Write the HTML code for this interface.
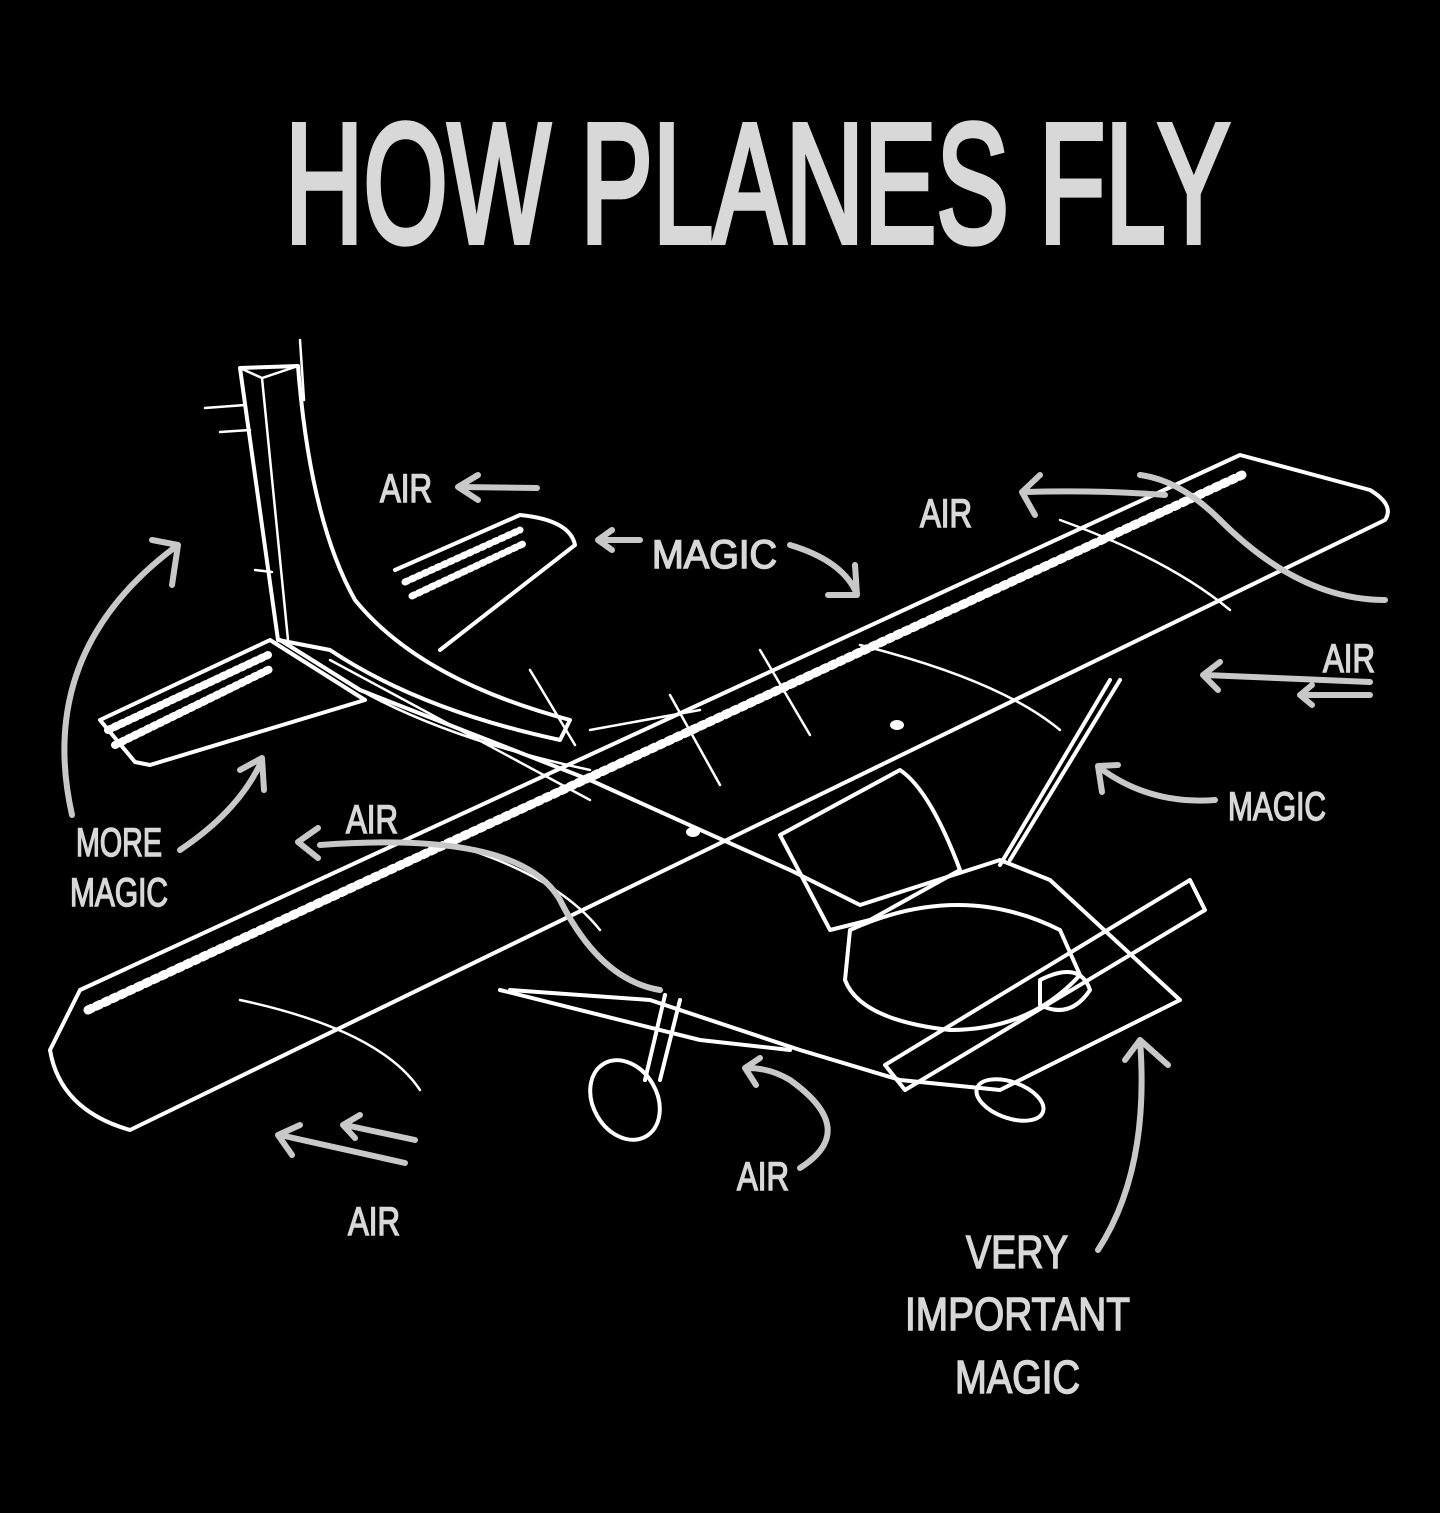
<!DOCTYPE html>
<html><head><meta charset="utf-8"><style>
html,body{margin:0;padding:0;background:#000;}
svg{display:block}
.t{font-family:"Liberation Sans",sans-serif;fill:#d8d8d8;stroke:#d8d8d8;stroke-width:1.5}
.w{fill:none;stroke:#fff;stroke-width:4;stroke-linejoin:round;stroke-linecap:round}
.th{fill:none;stroke:#fff;stroke-width:2.5;stroke-linecap:round}
.a{fill:none;stroke:#c8c8c8;stroke-width:6;stroke-linecap:round;stroke-linejoin:round}
</style></head><body>
<svg width="1440" height="1513" viewBox="0 0 1440 1513" xmlns="http://www.w3.org/2000/svg">
<rect width="1440" height="1513" fill="#000"/>
<text class="t" x="285" y="242" font-size="170" style="stroke-width:6" textLength="945" lengthAdjust="spacingAndGlyphs">HOW PLANES FLY</text>

<!-- vertical tail -->
<path class="w" d="M240,368 L298,366 Q310,520 355,600 Q420,680 570,720 L560,740 Q420,710 330,650 L278,640 Z"/>
<path class="th" d="M262,378 L288,640 M240,368 L262,378 L298,366"/>
<path class="th" d="M205,408 L245,405 M220,432 L250,430 M255,570 L272,572 M300,340 L304,400"/>
<!-- horizontal stabilizers -->
<path class="w" d="M100,720 L270,640 L365,700 L150,765 L135,762 Z"/>
<path class="w" d="M108,730 L268,655 M115,745 L272,668" stroke-dasharray="3 4" style="stroke-width:8"/>
<path class="w" d="M395,570 L520,515 Q570,520 575,545 L440,650"/>
<path class="w" d="M405,582 L520,530 M412,596 L525,543" stroke-dasharray="3 4" style="stroke-width:7"/>
<!-- fuselage -->
<path class="w" d="M280,640 L360,690 L590,780 Q700,830 790,870 L860,905 L1000,860 L1050,880 L1180,1000 L1000,1090 L900,1080 L800,1050 L650,1000 L510,990"/>
<path class="th" d="M360,690 Q450,740 590,770 M330,660 L590,800"/>
<!-- main wing -->
<path class="w" d="M80,990 L1240,455 L1370,490 Q1395,505 1385,520 L130,1130 Q60,1110 50,1050 Z"/>
<path class="w" d="M88,1010 L1242,475" stroke-dasharray="4 5" style="stroke-width:9"/>
<path class="th" d="M240,1000 Q380,1030 420,1090 M470,850 Q560,880 600,930 M860,645 Q1000,680 1060,730 M1060,520 Q1170,560 1230,610"/>
<ellipse cx="693" cy="832" rx="7" ry="5" fill="#fff"/><ellipse cx="897" cy="725" rx="7" ry="5" fill="#fff"/>
<!-- strut -->
<path class="w" d="M1120,680 L1010,860 M1110,680 L1000,865"/>
<path class="w" d="M500,990 L700,1040 L790,1050"/>
<!-- cabin window -->
<path class="w" d="M780,835 L900,770 Q930,790 960,870 L870,920 L830,930 Z"/>
<path class="w" d="M850,930 Q960,880 1060,930 L1080,975 Q1030,1030 950,1030 Q860,1020 845,980 Z"/>
<!-- propeller -->
<path class="w" d="M885,1065 L1190,880 L1205,910 L905,1090 Z"/>
<path class="w" d="M1040,980 Q1080,960 1090,990 Q1070,1020 1040,1005 Z"/>
<!-- wheels -->
<path class="w" d="M680,1000 L660,1080 M665,995 L645,1080"/>
<ellipse class="w" cx="625" cy="1100" rx="32" ry="42" transform="rotate(-30 625 1100)"/>
<ellipse class="w" cx="1010" cy="1100" rx="35" ry="18" transform="rotate(20 1010 1100)"/>
<path class="th" d="M530,670 L575,745 M760,650 L810,735 M670,695 L720,785 M590,730 L700,710"/>

<!-- labels -->
<g class="t" font-size="40">
<text x="380" y="502" textLength="52" lengthAdjust="spacingAndGlyphs">AIR</text>
<text x="652" y="568" textLength="125" lengthAdjust="spacingAndGlyphs">MAGIC</text>
<text x="920" y="527" textLength="52" lengthAdjust="spacingAndGlyphs">AIR</text>
<text x="1323" y="672" textLength="52" lengthAdjust="spacingAndGlyphs">AIR</text>
<text x="1228" y="820" textLength="98" lengthAdjust="spacingAndGlyphs">MAGIC</text>
<text x="346" y="833" textLength="52" lengthAdjust="spacingAndGlyphs">AIR</text>
<text x="76" y="856" textLength="86" lengthAdjust="spacingAndGlyphs">MORE</text>
<text x="70" y="906" textLength="98" lengthAdjust="spacingAndGlyphs">MAGIC</text>
<text x="348" y="1235" textLength="52" lengthAdjust="spacingAndGlyphs">AIR</text>
<text x="737" y="1190" textLength="52" lengthAdjust="spacingAndGlyphs">AIR</text>
<text x="966" y="1268" font-size="46" textLength="102" lengthAdjust="spacingAndGlyphs">VERY</text>
<text x="905" y="1330" font-size="46" textLength="225" lengthAdjust="spacingAndGlyphs">IMPORTANT</text>
<text x="955" y="1393" font-size="46" textLength="125" lengthAdjust="spacingAndGlyphs">MAGIC</text>
</g>
<!-- arrows -->
<g class="a">
<path d="M537,488 L460,487 M478,475 L458,487 L478,500"/>
<path d="M640,540 L598,540 M612,530 L598,540 L612,550"/>
<path d="M790,545 Q840,560 855,590 M828,595 L857,595 L855,565"/>
<path d="M1165,495 Q1100,490 1025,492 M1040,475 L1022,492 L1035,515"/>
<path d="M1370,682 L1205,675 M1220,662 L1203,675 L1218,690"/>
<path d="M1370,695 L1300,695 M1312,685 L1300,695 L1312,705"/>
<path d="M1215,800 Q1150,805 1100,768 M1118,765 L1098,766 L1102,792"/>
<path d="M72,815 Q35,650 178,545 M152,540 L178,545 L172,585"/>
<path d="M180,850 Q240,810 262,760 M240,770 L262,758 L264,790"/>
<path d="M320,845 Q520,830 560,900 Q600,980 660,990 M318,828 L298,842 L318,858"/>
<path d="M405,1163 L280,1135 M300,1125 L278,1135 L292,1155"/>
<path d="M415,1140 L345,1125 M360,1115 L343,1125 L355,1138"/>
<path d="M800,1168 Q860,1130 790,1080 Q770,1068 748,1068 M760,1058 L745,1068 L756,1085"/>
<path d="M1098,1250 Q1150,1170 1140,1040 M1125,1060 L1140,1040 L1168,1065"/>
<path d="M1385,600 Q1300,600 1220,520 Q1180,480 1140,475"/>
</g>
</svg>
</body></html>
